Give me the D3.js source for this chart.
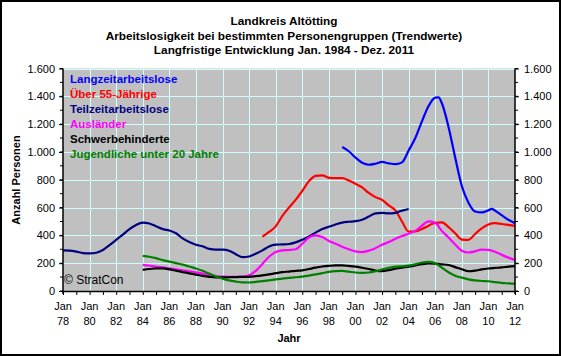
<!DOCTYPE html>
<html><head><meta charset="utf-8">
<script src="https://cdn.jsdelivr.net/npm/d3@7"></script>
<style>
html,body{margin:0;padding:0;background:#fff;}
svg{display:block;font-family:"Liberation Sans",Arial,sans-serif;}
</style></head>
<body>
<svg id="chart" width="561" height="356"></svg>
<script>
// ---- data ----
const titleLines = ["Landkreis Altötting","Arbeitslosigkeit bei bestimmten Personengruppen (Trendwerte)","Langfristige Entwicklung Jan. 1984 - Dez. 2011"];
const seriesNames = ["Langzeitarbeitslose","Über 55-Jährige","Teilzeitarbeitslose","Ausländer","Schwerbehinderte","Jugendliche unter 20 Jahre"];
const seriesColors = ["#0000FF","#FF0000","#000080","#FF00FF","#000000","#008000"];
const yTicks = [0,200,400,600,800,1000,1200,1400,1600];
const xTickYears = [1978,1980,1982,1984,1986,1988,1990,1992,1994,1996,1998,2000,2002,2004,2006,2008,2010,2012];
const xTickLabels = ["78","80","82","84","86","88","90","92","94","96","98","00","02","04","06","08","10","12"];

const yearsLangzeit = [1999,1999.5,2000,2000.5,2001,2001.5,2002,2002.5,2003,2003.5,2004,2004.5,2005,2005.5,2006,2006.25,2006.5,2007,2007.5,2008,2008.5,2009,2009.5,2010,2010.25,2010.5,2011,2011.5,2012];
const valsLangzeit = [1035,1005,960,922,908,915,928,918,912,925,1010,1100,1220,1330,1390,1392,1350,1180,960,755,635,572,565,580,590,578,545,512,488];

const yearsUeber55 = [1993,1993.5,1994,1994.5,1995,1995.5,1996,1996.5,1997,1997.5,1998,1998.5,1999,1999.5,2000,2000.5,2001,2001.5,2002,2002.5,2003,2003.5,2004,2004.5,2005,2005.5,2006,2006.5,2007,2007.5,2008,2008.5,2009,2009.5,2010,2010.5,2011,2011.5,2012];
const valsUeber55 = [390,425,465,540,600,655,720,790,828,832,814,812,812,795,771,745,705,675,655,615,580,500,428,428,445,470,490,494,460,415,370,368,410,450,478,488,482,475,468];

const yearsTeilzeit = [1978,1978.5,1979,1979.5,1980,1980.5,1981,1981.5,1982,1982.5,1983,1983.5,1984,1984.5,1985,1985.5,1986,1986.5,1987,1987.5,1988,1988.5,1989,1989.5,1990,1990.5,1991,1991.5,1992,1992.5,1993,1993.5,1994,1994.5,1995,1995.5,1996,1996.5,1997,1997.5,1998,1998.5,1999,1999.5,2000,2000.5,2001,2001.5,2002,2002.5,2003,2003.5,2004];
const valsTeilzeit = [292,290,283,273,270,275,295,330,368,405,445,475,492,485,465,445,435,415,378,352,333,322,303,298,298,290,265,243,248,268,292,320,333,335,338,350,368,392,420,445,462,478,492,498,502,512,535,558,562,558,562,578,590];

const years84 = [1984,1984.5,1985,1985.5,1986,1986.5,1987,1987.5,1988,1988.5,1989,1989.5,1990,1990.5,1991,1991.5,1992,1992.5,1993,1993.5,1994,1994.5,1995,1995.5,1996,1996.5,1997,1997.5,1998,1998.5,1999,1999.5,2000,2000.5,2001,2001.5,2002,2002.5,2003,2003.5,2004,2004.5,2005,2005.5,2006,2006.5,2007,2007.5,2008,2008.5,2009,2009.5,2010,2010.5,2011,2011.5,2012];
const valsAuslaender = [188,182,176,170,163,156,149,142,134,125,116,108,103,102,102,103,113,145,195,246,280,292,295,300,340,385,400,388,360,340,318,300,285,280,290,308,332,352,375,395,412,432,470,500,490,432,385,335,290,277,285,298,296,282,260,240,224];
const valsSchwer = [152,158,163,162,156,146,136,127,118,109,102,98,98,99,100,101,102,107,113,120,128,136,140,145,148,158,168,176,181,184,184,180,175,167,158,147,143,150,160,168,175,184,193,198,197,192,187,172,156,142,146,156,162,166,170,175,179];
const valsJugend = [253,246,236,222,211,200,190,176,162,145,125,104,89,76,68,62,61,65,71,77,83,89,94,99,104,111,119,128,137,143,145,139,133,131,133,142,155,167,175,178,182,192,205,210,200,168,135,110,96,84,76,72,70,64,58,55,52];

const seriesData = [
  [yearsLangzeit, valsLangzeit],
  [yearsUeber55, valsUeber55],
  [yearsTeilzeit, valsTeilzeit],
  [years84, valsAuslaender],
  [years84, valsSchwer],
  [years84, valsJugend]
];

// ---- layout ----
const svg = d3.select("#chart");
const W = 561, H = 356;
const px0 = 63, px1 = 515, py0 = 291, py1 = 68.5;

const x = d3.scaleLinear().domain([1978, 2012]).range([px0, px1]);
const y = d3.scaleLinear().domain([0, 1600]).range([py0, py1]);
const de = d3.formatLocale({decimal: ",", thousands: ".", grouping: [3], currency: ["", "€"]});
const fmt = de.format(",.0f");

svg.append("rect").attr("x", 0).attr("y", 0).attr("width", W).attr("height", H).attr("fill", "#fff");
svg.append("rect").attr("x", 1).attr("y", 1).attr("width", W - 2).attr("height", H - 2)
  .attr("fill", "none").attr("stroke", "#000").attr("stroke-width", 2);

// titles
const titleY = [25, 39.5, 54];
svg.selectAll("text.title").data(titleLines).join("text")
  .attr("class", "title")
  .attr("x", 284).attr("y", (d, i) => titleY[i])
  .attr("text-anchor", "middle")
  .attr("font-size", "11.8px").attr("font-weight", "bold").attr("fill", "#000")
  .text(d => d);

// plot background
svg.append("rect").attr("x", px0).attr("y", py1).attr("width", px1 - px0).attr("height", py0 - py1)
  .attr("fill", "#C0C0C0");

// gridlines
const grid = svg.append("g").attr("stroke", "#CCFFFF").attr("stroke-width", 1);
grid.selectAll("line.h").data(yTicks.slice(1)).join("line")
  .attr("x1", px0).attr("x2", px1)
  .attr("y1", d => Math.round(y(d)) + 0.5).attr("y2", d => Math.round(y(d)) + 0.5);
grid.selectAll("line.v").data(xTickYears.slice(1, -1)).join("line")
  .attr("y1", py1).attr("y2", py0)
  .attr("x1", d => Math.round(x(d)) + 0.5).attr("x2", d => Math.round(x(d)) + 0.5);

// lines
const line = d3.line().curve(d3.curveMonotoneX).x(d => x(d[0])).y(d => y(d[1]));
svg.append("g").selectAll("path").data(seriesData).join("path")
  .attr("d", s => line(s[0].map((yr, i) => [yr, s[1][i]])))
  .attr("fill", "none")
  .attr("stroke", (s, i) => seriesColors[i])
  .attr("stroke-width", 2.2)
  .attr("stroke-linejoin", "round");

// axes
const minorY = d3.range(0, 1601, 100);
const leftAxis = d3.axisLeft(y).tickValues(yTicks).tickFormat(fmt).tickSize(4).tickPadding(4);
const rightAxis = d3.axisRight(y).tickValues(yTicks).tickFormat(fmt).tickSize(4).tickPadding(5);
const gl = svg.append("g").attr("transform", `translate(${px0},0)`).call(leftAxis);
const gr = svg.append("g").attr("transform", `translate(${px1},0)`).call(rightAxis);
[gl, gr].forEach(g => {
  g.select(".domain").attr("stroke", "#000").attr("stroke-width", 1.5).attr("d", null);
  g.selectAll("text").attr("font-size", "11px").attr("fill", "#000").attr("font-family", '"Liberation Sans",Arial,sans-serif');
  g.selectAll(".tick line").attr("stroke", "#000");
});
gl.select(".domain").remove();
gr.select(".domain").remove();
svg.append("line").attr("x1", px0).attr("x2", px0).attr("y1", py1).attr("y2", py0 + 3).attr("stroke", "#000").attr("stroke-width", 1.5);
svg.append("line").attr("x1", px1).attr("x2", px1).attr("y1", py1).attr("y2", py0 + 3).attr("stroke", "#000").attr("stroke-width", 1.5);
// minor y ticks
svg.append("g").selectAll("line").data(minorY).join("line")
  .attr("x1", px0 - 3).attr("x2", px0).attr("y1", d => y(d)).attr("y2", d => y(d)).attr("stroke", "#000");
svg.append("g").selectAll("line").data(minorY).join("line")
  .attr("x1", px1).attr("x2", px1 + 3).attr("y1", d => y(d)).attr("y2", d => y(d)).attr("stroke", "#000");

// bottom axis
const yearTicks = d3.range(1978, 2013, 1);
const gb = svg.append("g").attr("transform", `translate(0,${py0})`)
  .call(d3.axisBottom(x).tickValues(yearTicks).tickSize(4).tickFormat(""));
gb.select(".domain").attr("stroke", "#000").attr("stroke-width", 1.5).attr("d", `M${px0},0.5H${px1}`);
gb.selectAll(".tick line").attr("stroke", "#000");
const xl = svg.append("g").selectAll("text").data(xTickYears).join("text")
  .attr("x", d => x(d)).attr("text-anchor", "middle").attr("font-size", "11px").attr("fill", "#000");
xl.append("tspan").attr("x", d => x(d)).attr("y", 310).text("Jan");
xl.append("tspan").attr("x", d => x(d)).attr("y", 325).text((d, i) => xTickLabels[i]);

// axis titles
svg.append("text").attr("x", 289).attr("y", 342).attr("text-anchor", "middle")
  .attr("font-size", "11px").attr("font-weight", "bold").text("Jahr");
svg.append("text").attr("transform", "translate(20,180) rotate(-90)").attr("text-anchor", "middle")
  .attr("font-size", "11px").attr("font-weight", "bold").text("Anzahl Personen");

// legend
svg.append("g").selectAll("text").data(seriesNames).join("text")
  .attr("x", 70).attr("y", (d, i) => 83 + i * 15)
  .attr("font-size", "11.5px").attr("font-weight", "bold")
  .attr("fill", (d, i) => seriesColors[i]).text(d => d);

// copyright
svg.append("text").attr("x", 64).attr("y", 284).attr("font-size", "12px").attr("fill", "#000").text("© StratCon");
</script>
</body></html>
